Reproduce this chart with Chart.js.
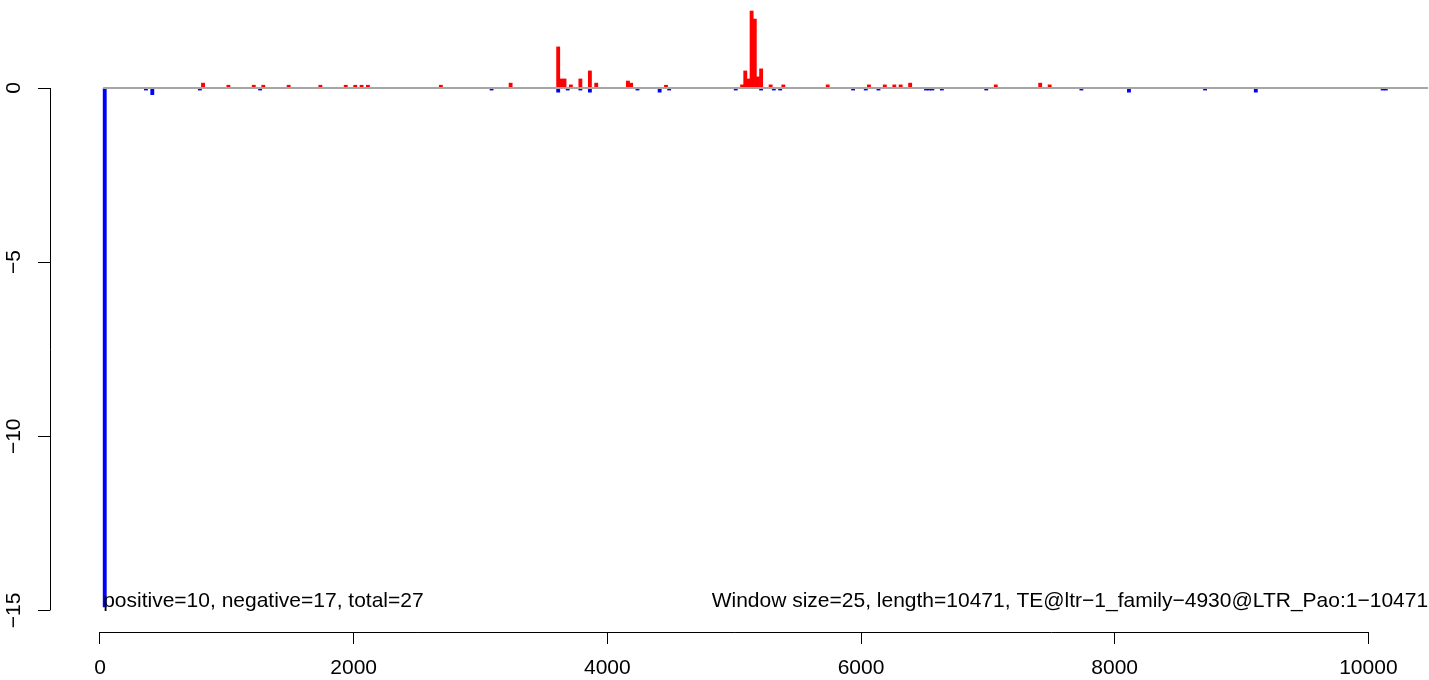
<!DOCTYPE html>
<html>
<head>
<meta charset="utf-8">
<script src="https://cdn.jsdelivr.net/npm/chart.js@4/dist/chart.umd.min.js"></script>
<style>
  html, body { margin: 0; padding: 0; background: #fff; }
  #wrap { width: 1429px; height: 680px; }
</style>
</head>
<body>
<div id="wrap"><canvas id="te-chart" width="1429" height="680"></canvas></div>
<script>
const windowSize = 25
const seqLength = 10471

// window start positions and scores
const posStart = [800, 1000, 1200, 1275, 1475, 1725, 1925, 2000, 2050, 2100, 2675, 3225,
  3600, 3625, 3650, 3700, 3775, 3850, 3900, 4150, 4175, 4450, 5050, 5075, 5100, 5125,
  5150, 5175, 5200, 5275, 5375, 5725, 6050, 6175, 6250, 6300, 6375, 7050, 7400, 7475]
const posValue = [0.14, 0.08, 0.08, 0.08, 0.08, 0.08, 0.08, 0.08, 0.08, 0.08, 0.08, 0.14,
  1.18, 0.26, 0.26, 0.09, 0.26, 0.49, 0.14, 0.2, 0.14, 0.08, 0.09, 0.49, 0.26, 2.21,
  1.98, 0.32, 0.55, 0.09, 0.09, 0.09, 0.09, 0.09, 0.09, 0.09, 0.14, 0.09, 0.14, 0.09]

const negStart = [25, 350, 400, 775, 1250, 3075, 3600, 3675, 3775, 3850, 4225, 4400, 4475,
  5000, 5200, 5300, 5350, 5925, 6025, 6125, 6500, 6525, 6550, 6625, 6975, 7725, 8100,
  8700, 9100, 10100, 10125]
const negValue = [-14.9, -0.06, -0.19, -0.06, -0.06, -0.06, -0.12, -0.06, -0.06, -0.12, -0.06, -0.12, -0.06,
  -0.06, -0.06, -0.06, -0.06, -0.06, -0.06, -0.06, -0.06, -0.06, -0.06, -0.06, -0.06, -0.06, -0.12,
  -0.06, -0.12, -0.06, -0.06]

const xTicks = [0, 2000, 4000, 6000, 8000, 10000]
const yTicks = [-15, -10, -5, 0]

const leftNote = 'positive=10, negative=17, total=27'
const rightNote = 'Window size=25, length=10471, TE@ltr\u22121_family\u22124930@LTR_Pao:1\u221210471'

const FONT = '"Liberation Sans", Arial, sans-serif'

const toPoints = (starts, values) => starts.map((s, i) => ({x: s + windowSize / 2, y: values[i]}))

// R-style axis lines, rotated y labels and the two notes
const rAxesPlugin = {
  id: 'rAxes',
  afterDraw(chart) {
    const {ctx, scales: {x, y}, chartArea} = chart
    ctx.save()
    ctx.strokeStyle = '#000'
    ctx.lineWidth = 1
    ctx.beginPath()
    const ax = Math.round(chartArea.left) + 0.5
    ctx.moveTo(ax, y.getPixelForValue(yTicks[0]))
    ctx.lineTo(ax, y.getPixelForValue(yTicks[yTicks.length - 1]))
    const ay = Math.round(chartArea.bottom) + 0.5
    ctx.moveTo(x.getPixelForValue(xTicks[0]), ay)
    ctx.lineTo(x.getPixelForValue(xTicks[xTicks.length - 1]), ay)
    ctx.stroke()

    ctx.fillStyle = '#000'
    ctx.font = '21px ' + FONT
    ctx.textAlign = 'center'
    ctx.textBaseline = 'middle'
    yTicks.forEach(v => {
      ctx.save()
      ctx.translate(14, y.getPixelForValue(v))
      ctx.rotate(-Math.PI / 2)
      ctx.fillText(String(v).replace('-', '\u2212'), 0, 0)
      ctx.restore()
    })

    ctx.textAlign = 'left'
    ctx.fillText(leftNote, x.getPixelForValue(25), y.getPixelForValue(-14.75))
    ctx.textAlign = 'right'
    ctx.fillText(rightNote, x.getPixelForValue(seqLength), y.getPixelForValue(-14.75))
    ctx.restore()
  }
}

new Chart(document.getElementById('te-chart'), {
  data: {
    datasets: [{
      type: 'line',
      data: [{x: windowSize, y: 0}, {x: seqLength, y: 0}],
      borderColor: '#a6a6a6',
      borderWidth: 2,
      pointRadius: 0,
      order: 0,
    },
    {
      type: 'bar',
      data: toPoints(posStart, posValue),
      backgroundColor: '#ff0000',
      barThickness: 3.2,
      grouped: false,
      order: 1,
    },
    {
      type: 'bar',
      data: toPoints(negStart, negValue),
      backgroundColor: '#0000ff',
      barThickness: 3.2,
      grouped: false,
      order: 1,
    }]
  },
  options: {
    responsive: false,
    animation: false,
    layout: {padding: 0},
    scales: {
      x: {
        type: 'linear',
        min: -394,
        max: 10478,
        offset: false,
        afterBuildTicks: scale => { scale.ticks = xTicks.map(v => ({value: v})) },
        afterFit: scale => { scale.height = 48 },
        border: {display: false},
        grid: {offset: false, drawOnChartArea: false, drawTicks: true, tickLength: 12, color: '#000', lineWidth: 1},
        ticks: {
          color: '#000',
          padding: 12,
          maxRotation: 0,
          font: {family: FONT, size: 21},
          callback: v => String(v)
        }
      },
      y: {
        type: 'linear',
        min: -15.62,
        max: 2.527,
        afterBuildTicks: scale => { scale.ticks = yTicks.map(v => ({value: v})) },
        afterFit: scale => { scale.width = 50 },
        border: {display: false},
        grid: {drawOnChartArea: false, drawTicks: true, tickLength: 12, color: '#000', lineWidth: 1},
        ticks: {display: false}
      }
    },
    plugins: {
      legend: {display: false},
      tooltip: {enabled: false}
    }
  },
  plugins: [rAxesPlugin]
})
</script>
</body>
</html>
